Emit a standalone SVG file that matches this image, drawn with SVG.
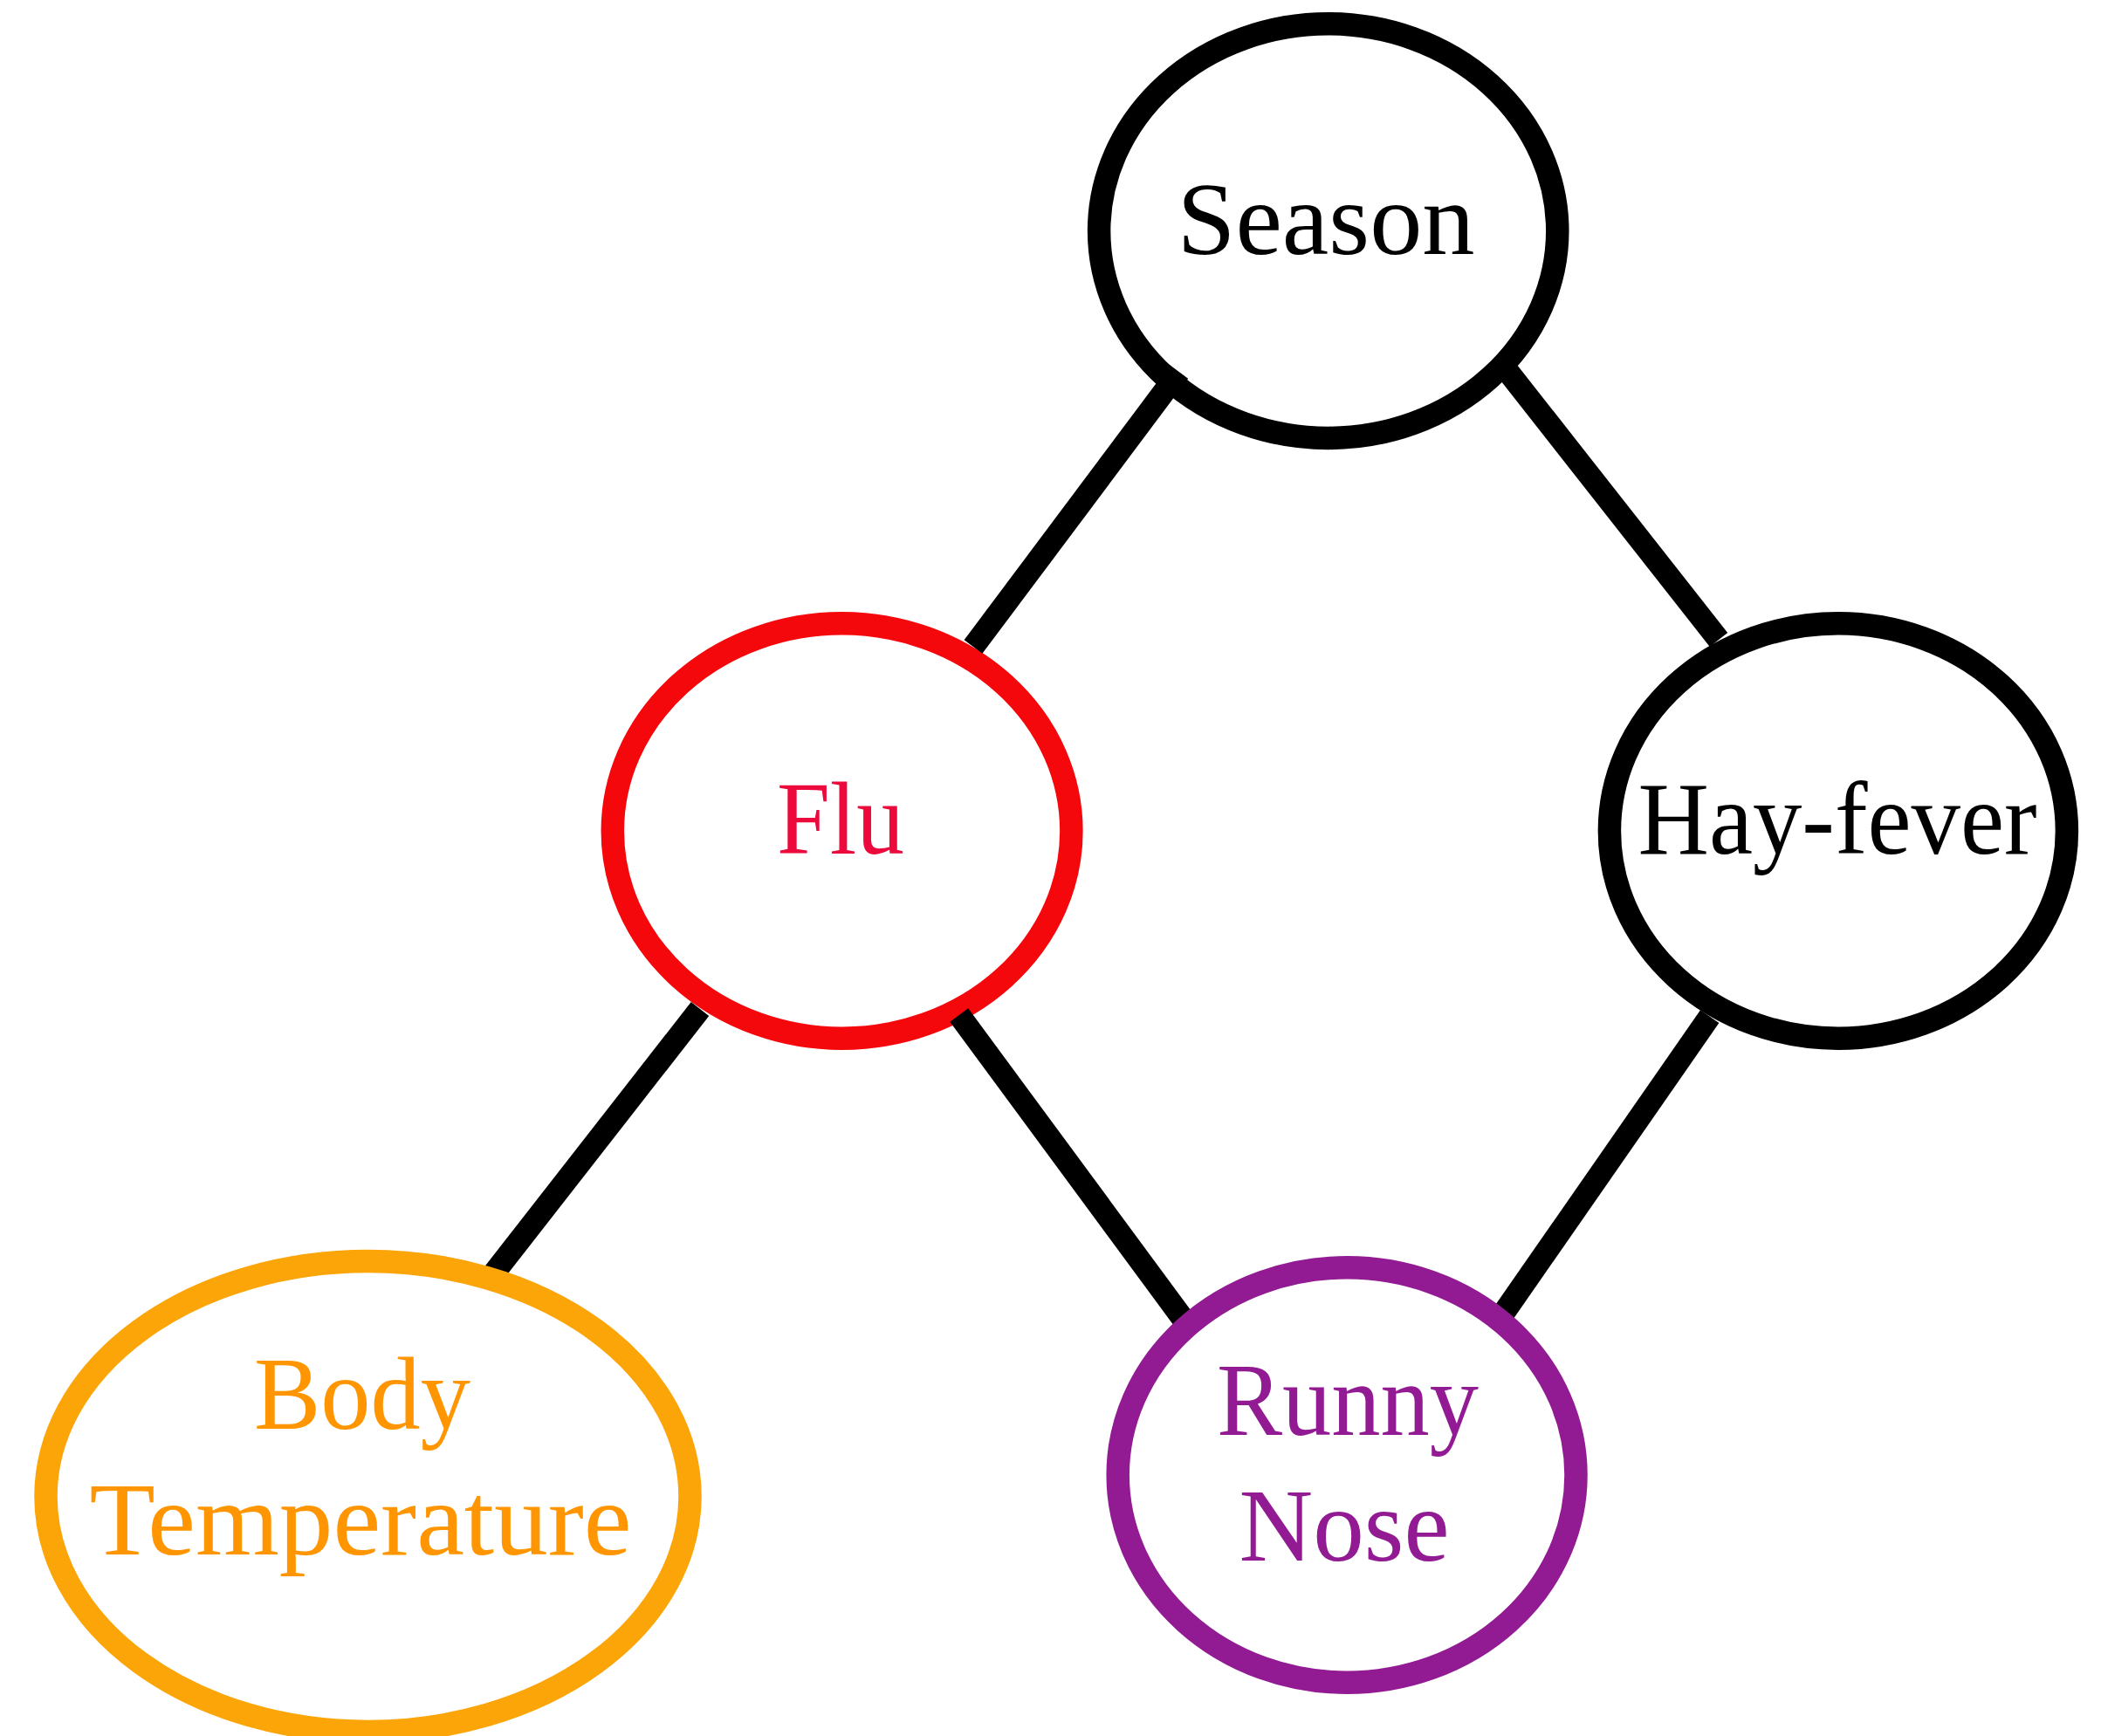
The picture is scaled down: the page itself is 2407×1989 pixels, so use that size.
<svg xmlns="http://www.w3.org/2000/svg" width="2407" height="1989" viewBox="0 0 2407 1989">
  <style>
    .node { fill: #ffffff; stroke-width: 26.5; }
    .lbl { font-family: "Liberation Serif", "DejaVu Serif", serif; font-size: 118px; text-anchor: middle; }
    .edge { stroke: #000000; stroke-width: 26; stroke-linecap: butt; fill: none; }
  </style>
  <rect x="0" y="0" width="2407" height="1989" fill="#ffffff"/>

  <g id="node-season">
    <ellipse class="node" cx="1521.7" cy="264.6" rx="262.6" ry="237.3" stroke="#000000"/>
    <text class="lbl" x="1519" y="291" fill="#000000" textLength="341" lengthAdjust="spacingAndGlyphs">Season</text>
  </g>

  <g id="node-flu">
    <ellipse class="node" cx="964.6" cy="952" rx="262.8" ry="237.7" stroke="#F5080C"/>
    <text class="lbl" x="963" y="978" fill="#EC0A3C" textLength="146" lengthAdjust="spacingAndGlyphs">Flu</text>
  </g>

  <g id="node-hayfever">
    <ellipse class="node" cx="2105.9" cy="952" rx="262" ry="237.7" stroke="#000000"/>
    <text class="lbl" x="2105" y="978" fill="#000000" textLength="457" lengthAdjust="spacingAndGlyphs">Hay-fever</text>
  </g>

  <g id="connectors">
    <line class="edge" x1="1350.7" y1="426" x2="1115" y2="741"/>
    <line class="edge" x1="1727" y1="425" x2="1969" y2="733"/>
    <line class="edge" x1="802" y1="1156" x2="562.5" y2="1463"/>
    <line class="edge" x1="1098.8" y1="1163" x2="1360.4" y2="1518"/>
    <line class="edge" x1="1958.7" y1="1164.7" x2="1718.7" y2="1510"/>
  </g>

  <g id="node-body-temperature">
    <ellipse class="node" cx="421.5" cy="1714.5" rx="369" ry="269.5" stroke="#FBA508"/>
    <text class="lbl" x="415" y="1637" fill="#FF9500" textLength="248" lengthAdjust="spacingAndGlyphs">Body</text>
    <text class="lbl" x="413" y="1780.5" fill="#FF9500" textLength="621" lengthAdjust="spacingAndGlyphs">Temperature</text>
  </g>

  <g id="node-runny-nose">
    <ellipse class="node" cx="1543.1" cy="1690" rx="262.4" ry="237.7" stroke="#921A93"/>
    <text class="lbl" x="1544" y="1644" fill="#921A93" textLength="300" lengthAdjust="spacingAndGlyphs">Runny</text>
    <text class="lbl" x="1540" y="1788" fill="#921A93" textLength="241" lengthAdjust="spacingAndGlyphs">Nose</text>
  </g>
</svg>
